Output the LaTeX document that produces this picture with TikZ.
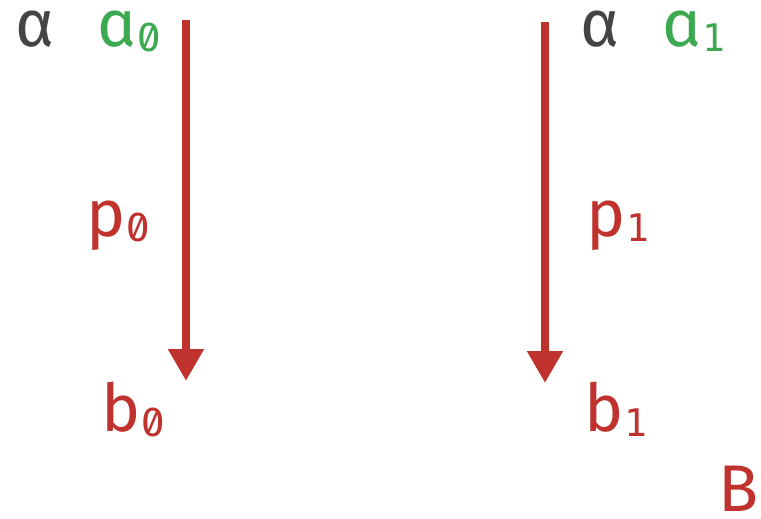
\documentclass[tikz,border=0pt]{standalone}
\usepackage{fontspec}
\setmainfont{Fira Sans}
\newfontfamily\zerofont[Numbers=SlashedZero]{Fira Sans}
\newfontfamily\onefont{DejaVu Sans Mono}
\usetikzlibrary{arrows.meta}
\definecolor{cgrey}{RGB}{68,68,68}
\definecolor{cgreen}{RGB}{60,168,80}
\definecolor{cred}{RGB}{192,50,45}
\newcommand\szero{\kern1pt\raisebox{-5pt}{\zerofont\fontsize{42}{42}\selectfont 0}}
\newcommand\sone{\kern1pt\raisebox{-5pt}{\onefont\fontsize{38}{38}\selectfont 1}}
\tikzset{
  lbl/.style={inner sep=0pt, anchor=base west, font=\fontsize{66}{66}\selectfont},
  flow/.style={draw=cred, line width=8pt, -{Triangle[length=32pt,width=34pt]}}
}
\begin{document}
\begin{tikzpicture}[x=1pt,y=1pt]
\useasboundingbox (0,0) rectangle (761,-519);
\node[lbl, text=cgrey] (al0) at (15,-47) {α};
\node[lbl, text=cgreen] (a0) at (97,-47) {ɑ\szero};
\node[lbl, text=cred] (p0) at (86,-236) {p\szero};
\node[lbl, text=cred] (b0) at (101,-431) {b\szero};
\node[lbl, text=cgrey] (al1) at (580,-47) {α};
\node[lbl, text=cgreen] (a1) at (662,-47) {ɑ\sone};
\node[lbl, text=cred] (p1) at (586,-236) {p\sone};
\node[lbl, text=cred] (b1) at (584,-431) {b\sone};
\node[lbl, text=cred] (B) at (718,-511) {B};
\coordinate (s0) at (186,-20);
\coordinate (e0) at (186,-381);
\coordinate (s1) at (545,-22);
\coordinate (e1) at (545,-383);
\draw[flow] (s0) -- (e0);
\draw[flow] (s1) -- (e1);
\end{tikzpicture}
\end{document}
